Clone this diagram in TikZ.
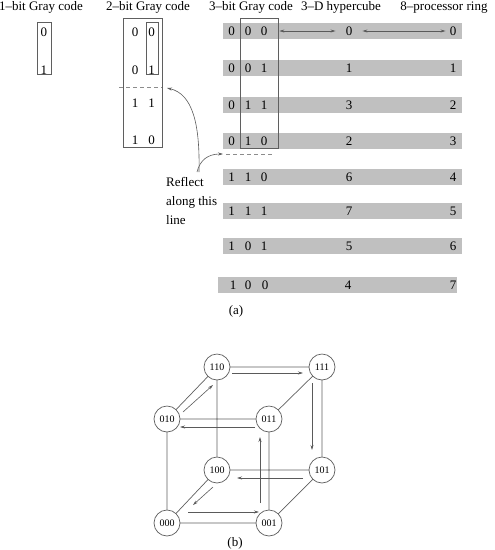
\documentclass[tikz,border=0pt]{standalone}
\usepackage{fontspec}
\setmainfont{Liberation Serif}
\usetikzlibrary{arrows.meta,calc}
\definecolor{barcol}{RGB}{192,192,192}
\definecolor{linecol}{RGB}{95,95,95}
\definecolor{arrcol}{RGB}{90,90,90}
\definecolor{dashcol}{RGB}{140,140,140}
\begin{document}
\begin{tikzpicture}[x=1pt,y=-1pt,
  txt/.style={font=\fontsize{13}{16}\selectfont, inner sep=0pt},
  title/.style={txt, anchor=base},
  dg/.style={txt, anchor=center},
  barbox/.style={fill=barcol, draw=none, minimum width=239pt, minimum height=16pt, inner sep=0pt},
  box/.style={draw=linecol, line width=0.7pt, inner sep=0pt},
  dashline/.style={draw=dashcol, line width=0.7pt, dash pattern=on 4pt off 3pt},
  arr/.style={draw=arrcol, line width=0.6pt, -{Stealth[length=5pt,width=3pt]}},
  arrboth/.style={draw=arrcol, line width=0.6pt, {Stealth[length=5pt,width=3pt]}-{Stealth[length=5pt,width=3pt]}},
  cnode/.style={circle, draw=linecol, fill=white, minimum size=26pt, inner sep=0pt, font=\fontsize{10}{12}\selectfont, line width=0.7pt},
  cubeedge/.style={draw=linecol, line width=0.7pt}
]
\useasboundingbox (0,0) rectangle (495,550);

% titles
\node[title] (t1) at (41,10.5) {1--bit Gray code};
\node[title] (t2) at (148,10.5) {2--bit Gray code};
\node[title] (t3) at (251,10.5) {3--bit Gray code};
\node[title] (t4) at (341,10.5) {3--D hypercube};
\node[title] (t5) at (444,10.5) {8--processor ring};

% 1-bit
\node[box, minimum width=14pt, minimum height=52pt] (b1) at (44,48) {};
\node[dg] (g1a) at (44,32) {0};
\node[dg] (g1b) at (44,70) {1};

% 2-bit
\node[box, minimum width=39pt, minimum height=129pt] (b2) at (142.5,82.5) {};
\node[box, minimum width=12pt, minimum height=52pt] (b2in) at (152,48) {};
\foreach \y/\a/\b [count=\i] in {32/0/0, 70/0/1, 103/1/1, 140/1/0}{
  \node[dg] (g2l\i) at (135,\y) {\a};
  \node[dg] (g2r\i) at (151.5,\y) {\b};
}
\coordinate (d1s) at (119,87);
\coordinate (d1e) at (162,87);
\draw[dashline] (d1s) -- (d1e);

% 3-bit rows
\foreach \y/\a/\b/\c/\h/\r [count=\i] in {31/0/0/0/0/0, 68/0/0/1/1/1, 105/0/1/1/3/2, 141/0/1/0/2/3, 177/1/1/0/6/4, 211/1/1/1/7/5, 246/1/0/1/5/6}{
  \node[barbox] (bar\i) at (342.5,\y) {};
  \node[dg] (c\i a) at (231.5,\y) {\a};
  \node[dg] (c\i b) at (248,\y) {\b};
  \node[dg] (c\i c) at (264,\y) {\c};
  \node[dg] (h\i) at (349,\y) {\h};
  \node[dg] (r\i) at (453,\y) {\r};
}
\node[barbox] (bar8) at (337.5,285) {};
\node[dg] (c8a) at (233,285) {1};
\node[dg] (c8b) at (248,285) {0};
\node[dg] (c8c) at (265,285) {0};
\node[dg] (h8) at (348,285) {4};
\node[dg] (r8) at (453,285) {7};

\node[box, minimum width=38pt, minimum height=130pt] (c3box) at (259,83) {};

\draw[arrboth] ([xshift=1pt]c3box.east |- h1) -- ([xshift=-10pt]h1.west);
\draw[arrboth] ([xshift=10pt]h1.east) -- ([xshift=-4pt]r1.west);

\coordinate (d2s) at (226,154);
\coordinate (d2e) at (272,154);
\draw[dashline] (d2s) -- (d2e);

% reflect text and arrows
\node[txt, anchor=north west, align=left, font=\fontsize{13}{19}\selectfont] (refl) at (166,177) {Reflect\\along this\\line};
\coordinate (rs1) at (199,172);
\coordinate (rs2) at (197,172);
\coordinate (re1) at (167,88);
\coordinate (re2) at (223,154);
\draw[arr] (rs1) .. controls (200,125) and (193,94) .. (re1);
\draw[arr] (rs2) .. controls (200,160) and (208,154) .. (re2);

\node[txt] (la) at (236,311) {(a)};

% cube
\coordinate (p110) at (217,367);
\coordinate (p111) at (322,367);
\coordinate (p010) at (167,419);
\coordinate (p011) at (269,419);
\coordinate (p100) at (217,470);
\coordinate (p101) at (322,470);
\coordinate (p000) at (167,523);
\coordinate (p001) at (269,523);
\draw[cubeedge] (p110) -- (p111) (p110) -- (p010) (p110) -- (p100)
  (p111) -- (p011) (p111) -- (p101) (p010) -- (p011) (p010) -- (p000)
  (p011) -- (p001) (p100) -- (p101) (p100) -- (p000) (p101) -- (p001)
  (p000) -- (p001);
\foreach \n in {110,111,010,011,100,101,000,001}{
  \node[cnode] (n\n) at (p\n) {\n};
}
\draw[arr] ($(n010)+(16,-7)$) -- ($(n110)+(-4,18)$);
\draw[arr] ($(n110)+(15,6)$) -- ($(n111)+(-19,6)$);
\draw[arr] ($(n111)+(-10,16)$) -- ($(n101)+(-10,-20)$);
\draw[arr] ($(n101)+(-19,8)$) -- ($(n100)+(20,8)$);
\draw[arr] ($(n100)+(-4,17)$) -- ($(n000)+(26,-18)$);
\draw[arr] ($(n000)+(21,-11)$) -- ($(n001)+(-10,-11)$);
\draw[arr] ($(n001)+(-9,-20)$) -- ($(n011)+(-9,18)$);
\draw[arr] ($(n011)+(-14,8)$) -- ($(n010)+(13,8)$);

\node[txt] (lb) at (235,543) {(b)};
\end{tikzpicture}
\end{document}
